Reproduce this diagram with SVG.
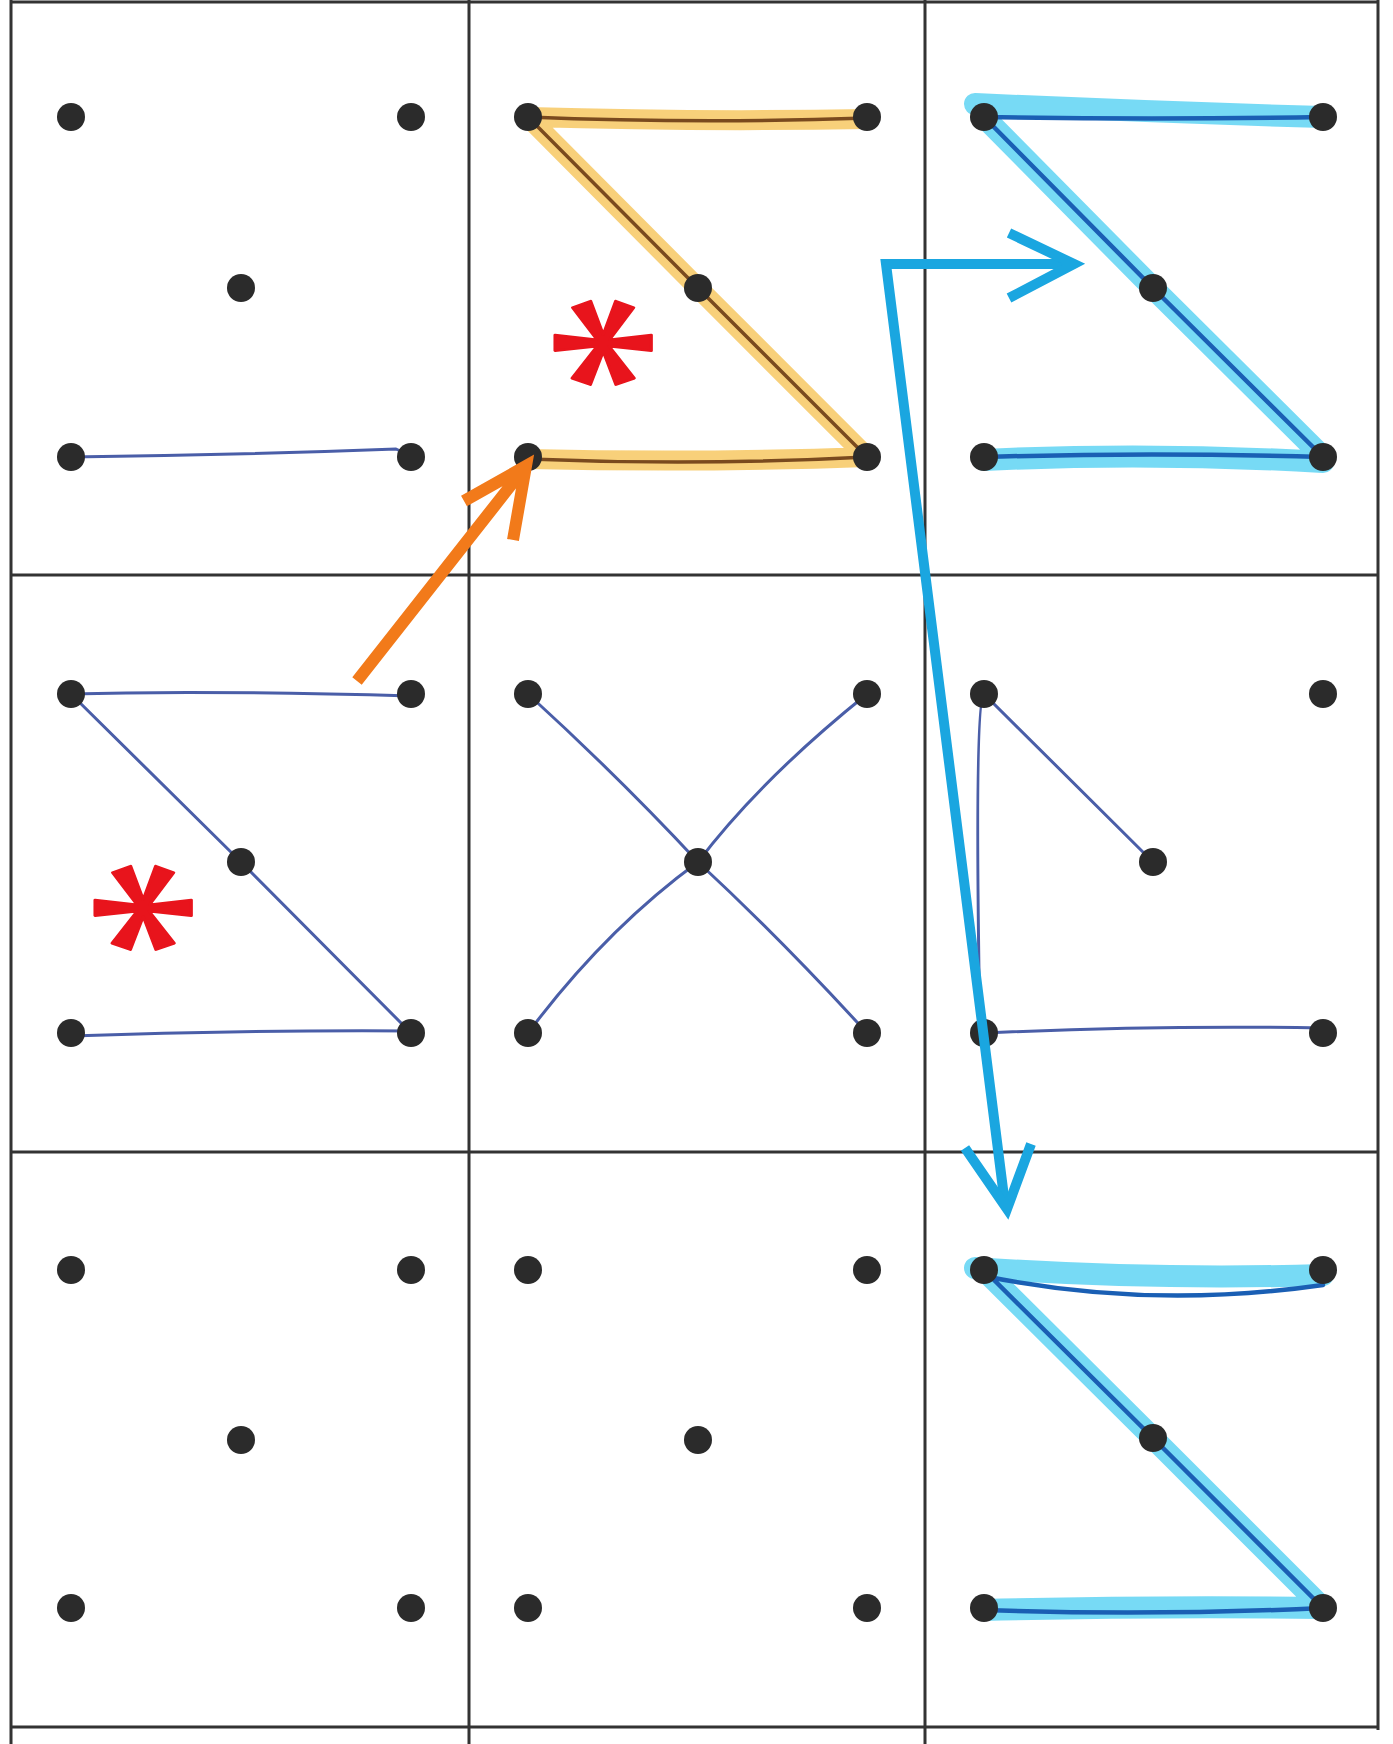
<svg xmlns="http://www.w3.org/2000/svg" width="1393" height="1744" viewBox="0 0 1393 1744">
<style>
.grid{stroke:#333;stroke-width:3;fill:none}
.dot{fill:#2b2b2b}
.thin{stroke:#4a5ea8;stroke-width:3;fill:none;stroke-linecap:round;stroke-linejoin:round}
.hlo{stroke:#f7c863;stroke-width:20;fill:none;stroke-linecap:round;stroke-linejoin:round;opacity:0.85}
.brown{stroke:#7a4a1e;stroke-width:3.5;fill:none;stroke-linecap:round;stroke-linejoin:round}
.hlc{stroke:#5fd3f3;stroke-width:22;fill:none;stroke-linecap:round;stroke-linejoin:round;opacity:0.85}
.dblue{stroke:#1a5fb4;stroke-width:4.5;fill:none;stroke-linecap:round;stroke-linejoin:round}
.arrO{stroke:#f27a1a;stroke-width:12;fill:none;stroke-linecap:butt;stroke-linejoin:miter}
.arrB{stroke:#1aa6e0;stroke-width:10;fill:none;stroke-linecap:butt;stroke-linejoin:miter}
.ast{fill:#e8141c;stroke:#e8141c;stroke-width:3;stroke-linejoin:round;text-anchor:middle;font-family:'Liberation Serif',serif;font-size:250px}
</style>
<rect x="0" y="0" width="1393" height="1744" fill="#ffffff"/>
<g id="grid">
<path class="grid" d="M11,0 V1744 M469,0 V1744 M925,0 V1744 M1378,0 V1730"/>
<path class="grid" d="M11,2 H1378 M11,575 H1378 M11,1152 H1378 M11,1727 H1378"/>
</g>
<g id="cell-1-1">
<path class="thin" d="M71,457 Q240,455 396,449 L411,456"/>
</g>
<g id="cell-1-2">
<path class="hlo" d="M528,117 Q700,122 867,119 M528,117 L698,288 L867,457 M528,459 Q700,463 867,457"/>
<path class="brown" d="M528,117 Q700,124 867,118 M528,117 L698,288 L867,457 M528,459 Q700,466 867,457"/>
<text class="ast" x="0" y="118" transform="translate(603,343) rotate(-90) scale(0.83,1.05)">*</text>
</g>
<g id="cell-1-3">
<path class="hlc" d="M975,104 Q1150,112 1323,117 M984,117 L1153,288 L1323,457 M984,460 Q1150,452 1323,462"/>
<path class="dblue" d="M984,117 Q1150,120 1323,117 M984,117 L1153,288 L1323,457 M984,457 Q1150,452 1323,457"/>
</g>
<g id="cell-2-1">
<path class="thin" d="M71,694 Q200,690 411,696 M71,694 L241,862 L411,1033 M71,1036 Q240,1030 411,1031"/>
<text class="ast" x="0" y="118" transform="translate(143,908) rotate(-90) scale(0.83,1.05)">*</text>
</g>
<g id="cell-2-2">
<path class="thin" d="M528,694 Q620,778 698,862 Q760,780 867,694 M698,862 Q605,930 528,1033 M698,862 Q780,938 867,1033"/>
</g>
<g id="cell-2-3">
<path class="thin" d="M984,694 L1153,862 M984,694 Q974,700 980,1033 M984,1033 Q1160,1025 1323,1028"/>
</g>
<g id="cell-3-3">
<path class="hlc" d="M975,1268 Q1150,1280 1323,1275 M984,1270 L1153,1438 L1323,1608 M984,1610 Q1150,1606 1323,1608"/>
<path class="dblue" d="M984,1276 Q1150,1310 1323,1285 M984,1270 L1153,1438 L1323,1608 M984,1610 Q1150,1616 1323,1608"/>
</g>
<g id="dots">
<circle class="dot" cx="71" cy="117" r="14"/><circle class="dot" cx="411" cy="117" r="14"/><circle class="dot" cx="241" cy="288" r="14"/><circle class="dot" cx="71" cy="457" r="14"/><circle class="dot" cx="411" cy="457" r="14"/>
<circle class="dot" cx="528" cy="117" r="14"/><circle class="dot" cx="867" cy="117" r="14"/><circle class="dot" cx="698" cy="288" r="14"/><circle class="dot" cx="528" cy="457" r="14"/><circle class="dot" cx="867" cy="457" r="14"/>
<circle class="dot" cx="984" cy="117" r="14"/><circle class="dot" cx="1323" cy="117" r="14"/><circle class="dot" cx="1153" cy="288" r="14"/><circle class="dot" cx="984" cy="457" r="14"/><circle class="dot" cx="1323" cy="457" r="14"/>
<circle class="dot" cx="71" cy="694" r="14"/><circle class="dot" cx="411" cy="694" r="14"/><circle class="dot" cx="241" cy="862" r="14"/><circle class="dot" cx="71" cy="1033" r="14"/><circle class="dot" cx="411" cy="1033" r="14"/>
<circle class="dot" cx="528" cy="694" r="14"/><circle class="dot" cx="867" cy="694" r="14"/><circle class="dot" cx="698" cy="862" r="14"/><circle class="dot" cx="528" cy="1033" r="14"/><circle class="dot" cx="867" cy="1033" r="14"/>
<circle class="dot" cx="984" cy="694" r="14"/><circle class="dot" cx="1323" cy="694" r="14"/><circle class="dot" cx="1153" cy="862" r="14"/><circle class="dot" cx="984" cy="1033" r="14"/><circle class="dot" cx="1323" cy="1033" r="14"/>
<circle class="dot" cx="71" cy="1270" r="14"/><circle class="dot" cx="411" cy="1270" r="14"/><circle class="dot" cx="241" cy="1440" r="14"/><circle class="dot" cx="71" cy="1608" r="14"/><circle class="dot" cx="411" cy="1608" r="14"/>
<circle class="dot" cx="528" cy="1270" r="14"/><circle class="dot" cx="867" cy="1270" r="14"/><circle class="dot" cx="698" cy="1440" r="14"/><circle class="dot" cx="528" cy="1608" r="14"/><circle class="dot" cx="867" cy="1608" r="14"/>
<circle class="dot" cx="984" cy="1270" r="14"/><circle class="dot" cx="1323" cy="1270" r="14"/><circle class="dot" cx="1153" cy="1438" r="14"/><circle class="dot" cx="984" cy="1608" r="14"/><circle class="dot" cx="1323" cy="1608" r="14"/>
</g>
<g id="connectors">
<path class="arrO" d="M357,681 L526,466 M464,501 L526,466 L513,540"/>
<path class="arrB" d="M1070,264 L886,264 L1005,1205"/>
<path class="arrB" d="M1009,233 L1074,264 L1009,298"/>
<path class="arrB" d="M965,1148 L1007,1209 L1031,1144"/>
</g>
</svg>
